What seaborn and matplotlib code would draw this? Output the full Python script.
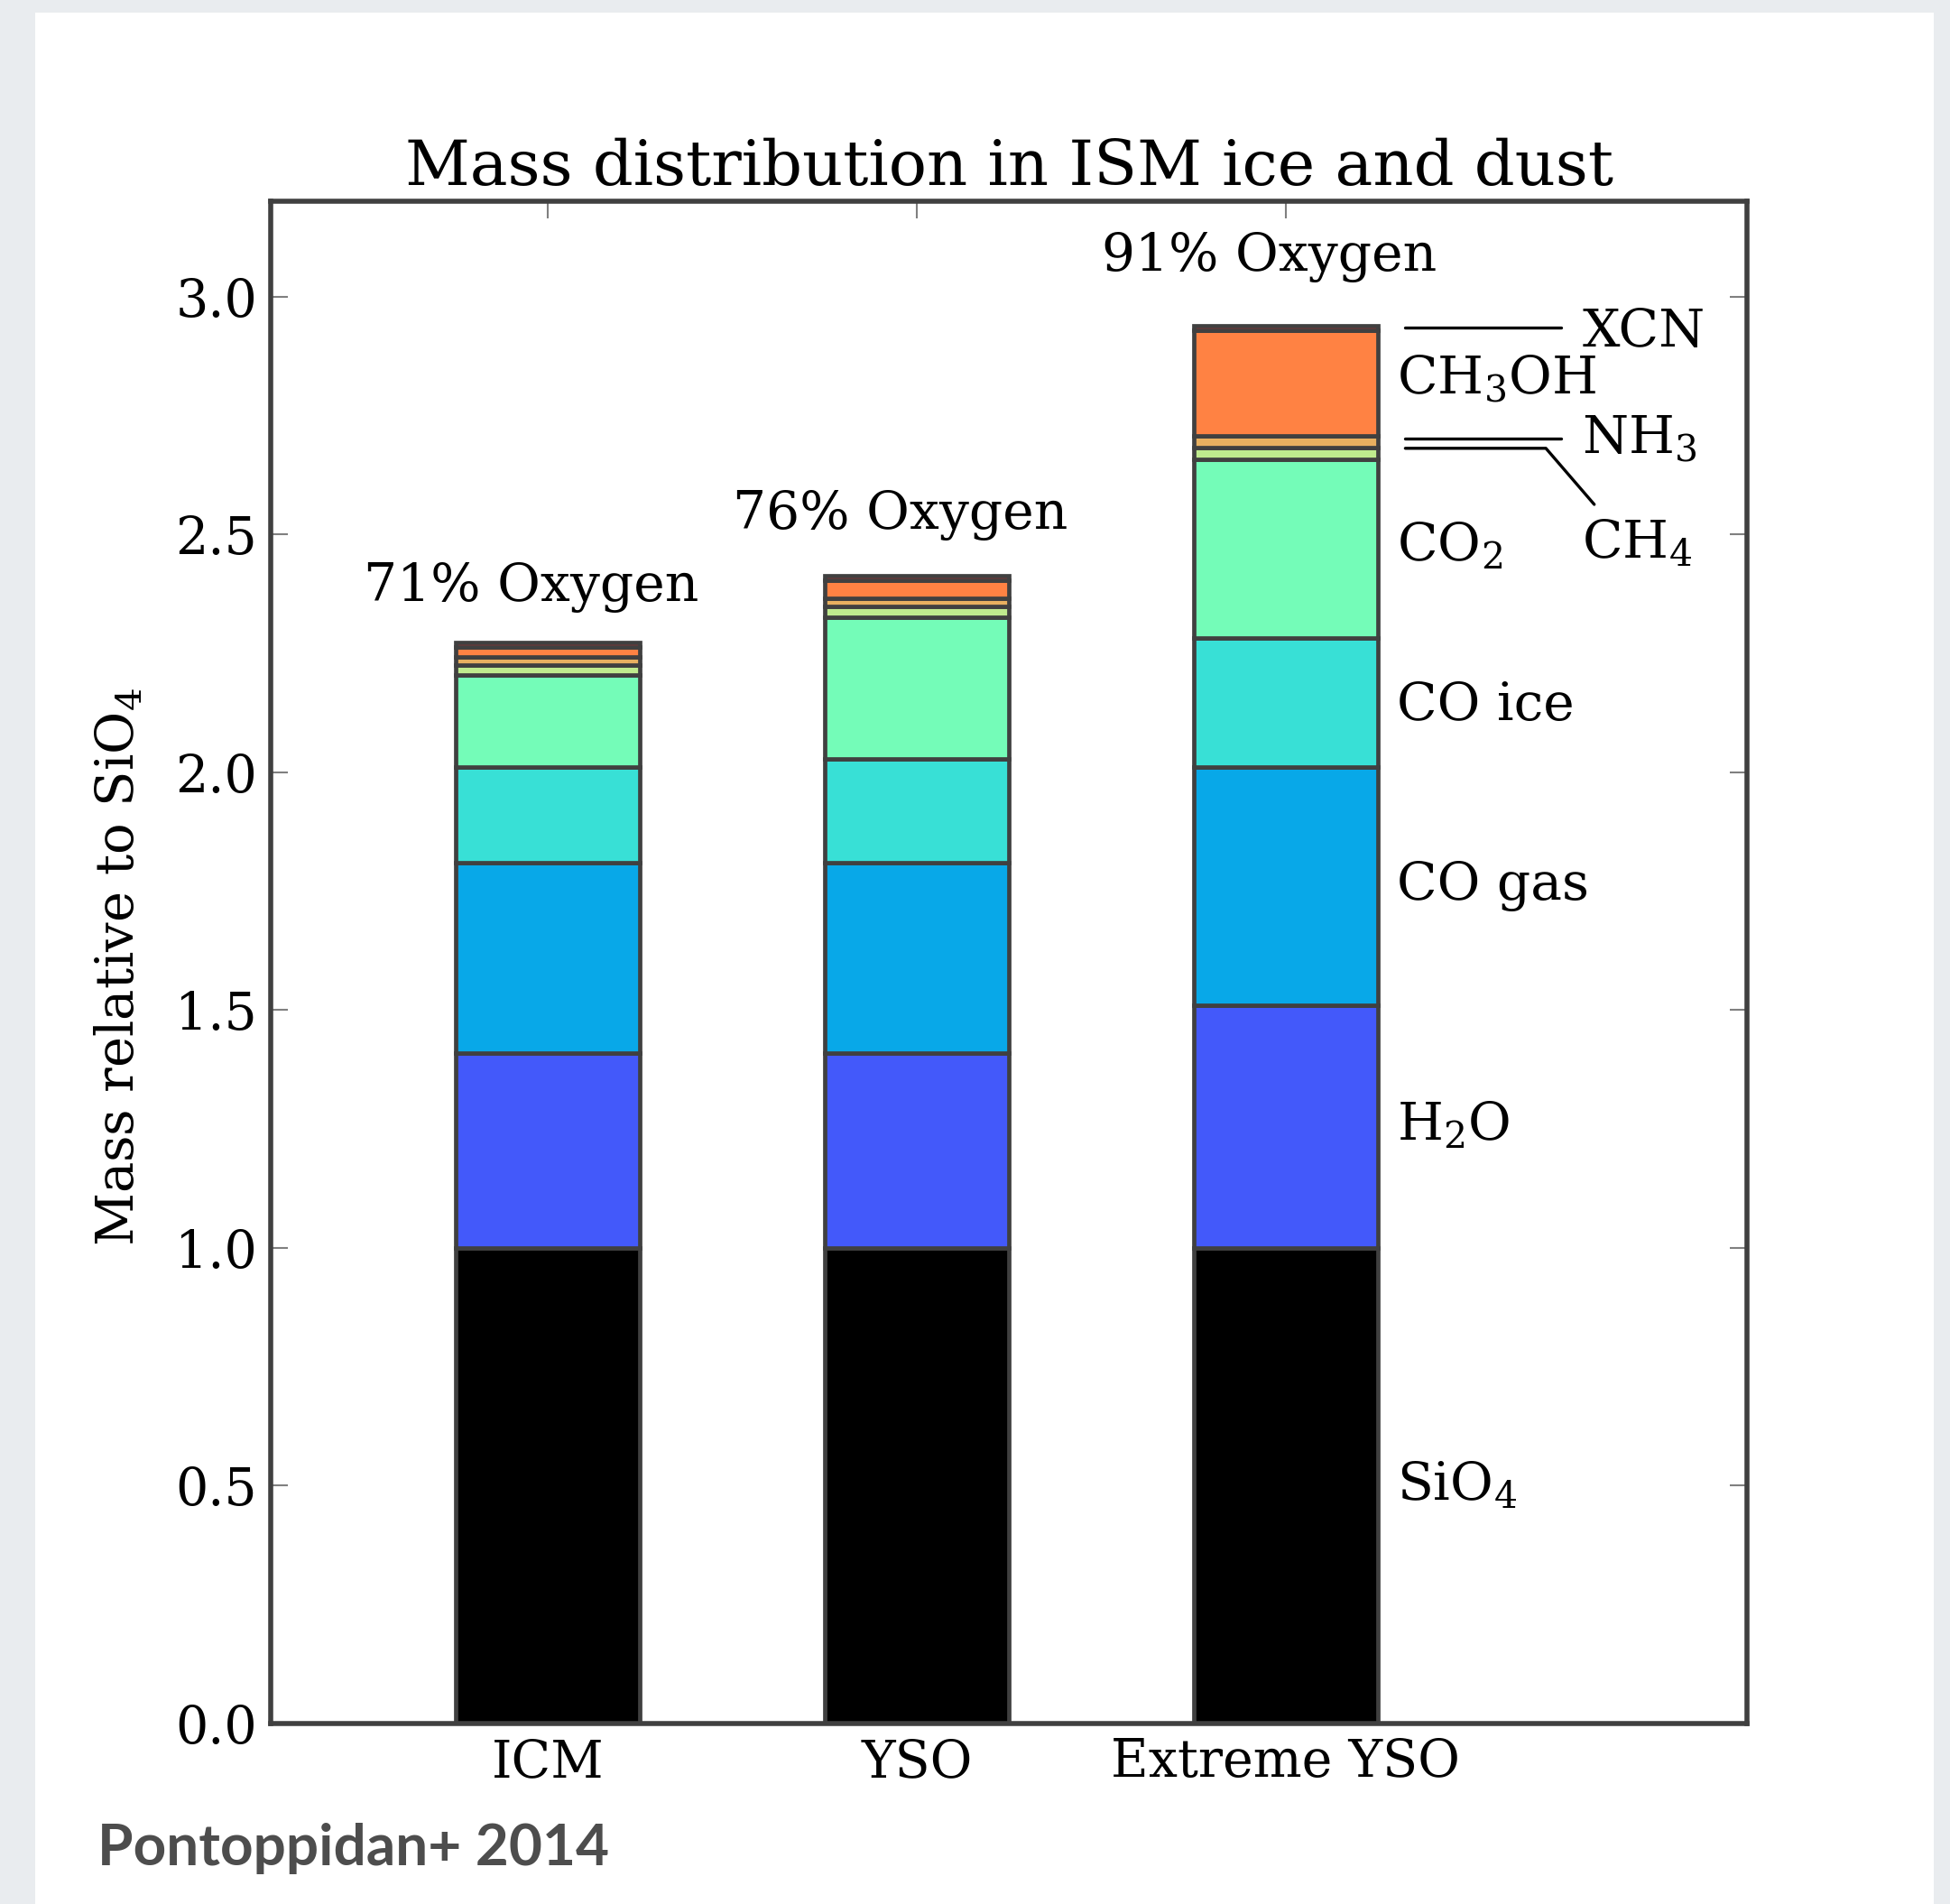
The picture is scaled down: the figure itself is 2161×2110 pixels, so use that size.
import numpy as np
import pandas as pd
import matplotlib
matplotlib.use("Agg")
import matplotlib.pyplot as plt
import seaborn as sns
from matplotlib.patches import Rectangle

# ---- data: mass of each component relative to SiO4 ----
categories = ["ICM", "YSO", "Extreme YSO"]
species = ["SiO$_4$", "H$_2$O", "CO gas", "CO ice", "CO$_2$",
           "CH$_4$", "NH$_3$", "CH$_3$OH", "XCN"]

sio4 = [1.000, 1.000, 1.000]
h2o = [0.410, 0.410, 0.510]
co_gas = [0.400, 0.400, 0.500]
co_ice = [0.200, 0.218, 0.272]
co2 = [0.195, 0.298, 0.375]
ch4 = [0.020, 0.022, 0.025]
nh3 = [0.018, 0.018, 0.025]
ch3oh = [0.020, 0.038, 0.222]
xcn = [0.010, 0.009, 0.010]

oxygen_labels = ["71% Oxygen", "76% Oxygen", "91% Oxygen"]

layers = [sio4, h2o, co_gas, co_ice, co2, ch4, nh3, ch3oh, xcn]
layer_colors = ["#000000", "#4359FA", "#08A8E8", "#38E0D6", "#74FCB8",
                "#BFEB8E", "#E8B060", "#FF8243", "#FF2020"]

# ---- style ----
sns.set_style("white")
plt.rcParams["font.family"] = ["DejaVu Serif"]
plt.rcParams["mathtext.fontset"] = "dejavuserif"
plt.rcParams["text.color"] = "black"
plt.rcParams["axes.labelcolor"] = "black"
plt.rcParams["xtick.labelcolor"] = "black"
plt.rcParams["ytick.labelcolor"] = "black"

edge = "#404040"
fig = plt.figure(figsize=(21.61, 21.10), dpi=100)
fig.patch.set_facecolor("#e9ecef")
fig.add_artist(Rectangle((0.018, 0.0), 0.9737, 0.9934, transform=fig.transFigure,
                         facecolor="white", edgecolor="none", zorder=0))

ax = fig.add_axes([0.1390, 0.0948, 0.7569, 0.7994])
ax.set_facecolor("white")

# stacked bars, one seaborn layer per component
bottom = np.zeros(len(categories))
for name, vals, col in zip(species, layers, layer_colors):
    df = pd.DataFrame({"sample": categories, "mass": vals})
    sns.barplot(data=df, x="sample", y="mass", ax=ax, color=col, width=0.5,
                errorbar=None, saturation=1, bottom=bottom.copy(),
                edgecolor=edge, linewidth=3.4)
    bottom = bottom + np.array(vals)
totals = bottom

ax.set_xlim(-0.75, 3.25)
ax.set_ylim(0, 3.2)
ax.set_yticks(np.arange(0, 3.01, 0.5))
ax.set_yticklabels([f"{v:.1f}" for v in np.arange(0, 3.01, 0.5)])
ax.set_xticks(range(len(categories)))
ax.set_xticklabels(categories)
ax.set_xlabel("")
ax.set_ylabel("Mass relative to SiO$_4$", fontsize=41.5)
ax.yaxis.set_label_coords(-0.103, 0.497)
ax.yaxis.label.set_va("center")

for sp in ax.spines.values():
    sp.set_color(edge)
    sp.set_linewidth(4.0)
    sp.set_visible(True)

ax.tick_params(axis="both", direction="in", length=14, width=1.5, color="#808080",
               labelsize=41, top=True, right=True, bottom=True, left=True)
ax.tick_params(axis="y", pad=11)
ax.tick_params(axis="x", pad=11)

ax.set_title("Mass distribution in ISM ice and dust", fontsize=50.5, pad=13)

# oxygen fraction above each bar
ox_y = [2.388, 2.54, 3.083]
for i, (lab, yy) in enumerate(zip(oxygen_labels, ox_y)):
    ax.text(i - 0.045, yy, lab, ha="center", va="center", fontsize=42)

# component labels to the right of the last bar
lx = 2.30
right_labels = [("SiO$_4$", 0.470), ("H$_2$O", 1.228), ("CO gas", 1.732),
                ("CO ice", 2.109), ("CO$_2$", 2.446), ("CH$_3$OH", 2.796)]
for txt, yy in right_labels:
    ax.text(lx, yy, txt, ha="left", va="baseline", fontsize=42)

lx2 = 2.803
for txt, yy in [("XCN", 2.895), ("NH$_3$", 2.670), ("CH$_4$", 2.451)]:
    ax.text(lx2, yy, txt, ha="left", va="baseline", fontsize=42)

# leader lines for the thin top layers
ax.plot([2.324, 2.745], [2.935, 2.935], color="black", lw=2.4, clip_on=False)
ax.plot([2.324, 2.745], [2.702, 2.702], color="black", lw=2.4, clip_on=False)
ax.plot([2.324, 2.705, 2.836], [2.681, 2.681, 2.563], color="black", lw=2.4,
        clip_on=False)

fig.text(107.5 / 2161, 1 - 2067 / 2110, "Pontoppidan+ 2014", fontsize=46,
         fontweight="bold", family=["Lato", "DejaVu Sans"], color="#4d4d4d",
         ha="left", va="baseline")

fig.savefig("out.png", dpi=100, facecolor=fig.get_facecolor())
